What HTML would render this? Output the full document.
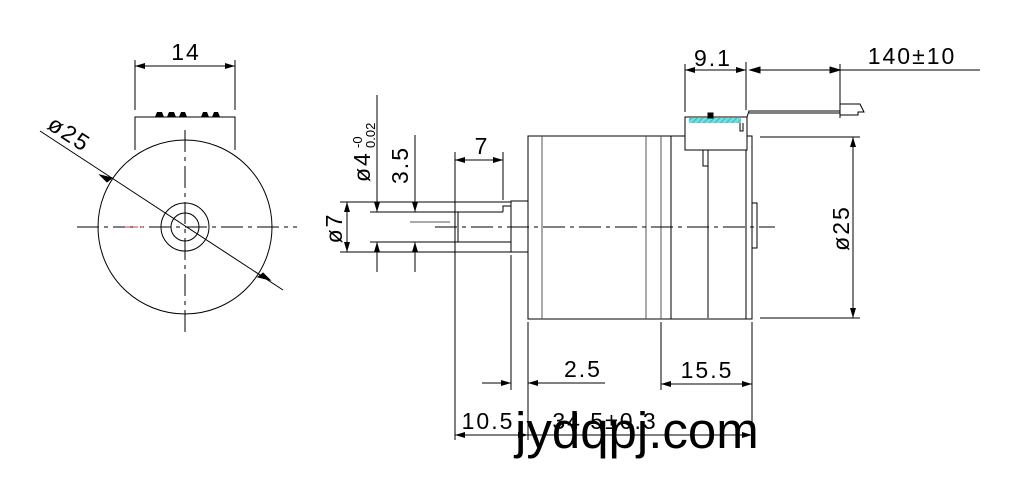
<!DOCTYPE html>
<html><head><meta charset="utf-8"><style>
html,body{margin:0;padding:0;background:#fff;width:1027px;height:477px;overflow:hidden}
svg{display:block}
text{font-family:"Liberation Sans",sans-serif;fill:#000}
.d{font-size:23px;letter-spacing:2px;fill:#222}
</style></head><body>
<svg width="1027" height="477" viewBox="0 0 1027 477" xmlns="http://www.w3.org/2000/svg">
<defs>
<marker id="a" viewBox="0 0 10 6" refX="10" refY="3" markerWidth="10" markerHeight="6" orient="auto-start-reverse" markerUnits="userSpaceOnUse"><path d="M0,0 L10,3 L0,6z" fill="#000"/></marker>
<pattern id="h" width="4" height="4" patternUnits="userSpaceOnUse" patternTransform="rotate(45)"><rect width="4" height="4" fill="#6fe0e0"/><line x1="0" y1="0" x2="0" y2="4" stroke="#2aa" stroke-width="1.5"/></pattern>
</defs>
<g stroke="#000" stroke-width="1" fill="none">
<circle cx="185" cy="227" r="87"/>
<circle cx="185" cy="227" r="24"/>
<circle cx="185" cy="227" r="14"/>
<path d="M135,150 V117 H235 V150"/>
<line x1="135" y1="60" x2="135" y2="110"/><line x1="235" y1="60" x2="235" y2="110"/>
<line x1="135" y1="66" x2="235" y2="66" marker-start="url(#a)" marker-end="url(#a)"/>
<line x1="40" y1="131" x2="283" y2="290"/>
<path d="M100,175 l12,3 l-5,4z M270,280 l-12,-3 l5,-4z" fill="#000"/>
<g stroke-dasharray="22,5,4,5"><line x1="77" y1="227" x2="297" y2="227"/><line x1="185" y1="130" x2="185" y2="335"/></g>
<line x1="125" y1="227" x2="143" y2="227" stroke="#e33" stroke-dasharray="5,3"/>
<rect x="528" y="136" width="224" height="183"/>
<line x1="542" y1="136" x2="542" y2="319" stroke="#555"/>
<line x1="646" y1="136" x2="646" y2="319" stroke="#555"/>
<line x1="661" y1="136" x2="661" y2="319" stroke="#555"/>
<line x1="671" y1="136" x2="671" y2="319"/>
<line x1="708" y1="150" x2="708" y2="318"/>
<line x1="746" y1="136" x2="746" y2="319"/>
<rect x="752" y="203" width="5" height="45"/>
<rect x="703" y="150" width="5" height="16"/>
<rect x="685" y="117" width="62" height="33" fill="#fff"/>
<rect x="689" y="118" width="52" height="5" fill="url(#h)" stroke="none"/>
<path d="M740,123 v8 h3 v-8" />
<path d="M708,113 h5 v5 h-5z" fill="#000"/>
<path d="M747,117 l2,-6 h91 M749,113 h91 M840,104 h20 l4,8 h-6 v3 h-18z" />
<rect x="511" y="201" width="17" height="51"/>
<line x1="340" y1="202" x2="511" y2="202"/>
<line x1="340" y1="252" x2="511" y2="252"/>
<line x1="370" y1="212" x2="503" y2="212"/>
<line x1="370" y1="242" x2="511" y2="242"/>
<line x1="410" y1="222" x2="450" y2="222" stroke="#555"/>
<path d="M455,212 v30 M458,212 v30 M503,212 v-6 h8"/>
<line x1="435" y1="227" x2="775" y2="227" stroke-dasharray="22,5,4,5"/>
<line x1="347" y1="202" x2="347" y2="252" marker-start="url(#a)" marker-end="url(#a)"/>
<line x1="377" y1="95" x2="377" y2="212" marker-end="url(#a)"/>
<line x1="377" y1="272" x2="377" y2="242" marker-end="url(#a)"/>
<line x1="415" y1="135" x2="415" y2="212" marker-end="url(#a)"/>
<line x1="415" y1="272" x2="415" y2="242" marker-end="url(#a)"/>
<line x1="455" y1="152" x2="455" y2="440"/>
<line x1="503" y1="152" x2="503" y2="200"/>
<line x1="455" y1="160" x2="503" y2="160" marker-start="url(#a)" marker-end="url(#a)"/>
<line x1="685" y1="64" x2="685" y2="112"/>
<line x1="746" y1="62" x2="746" y2="110"/>
<line x1="840" y1="64" x2="840" y2="118"/>
<line x1="685" y1="70" x2="746" y2="70" marker-start="url(#a)" marker-end="url(#a)"/>
<line x1="750" y1="70" x2="980" y2="70"/>
<path d="M750,70 l10,-3 v6z M840,70 l-10,-3 v6z" fill="#000"/>
<line x1="760" y1="137" x2="860" y2="137"/><line x1="760" y1="318" x2="860" y2="318"/>
<line x1="853" y1="137" x2="853" y2="318" marker-start="url(#a)" marker-end="url(#a)"/>
<line x1="511" y1="255" x2="511" y2="390"/>
<line x1="528" y1="322" x2="528" y2="440"/>
<line x1="661" y1="322" x2="661" y2="390"/>
<line x1="752" y1="322" x2="752" y2="440"/>
<line x1="482" y1="383" x2="511" y2="383" marker-end="url(#a)"/>
<line x1="605" y1="383" x2="528" y2="383" marker-end="url(#a)"/>
<line x1="661" y1="384" x2="752" y2="384" marker-start="url(#a)" marker-end="url(#a)"/>
<line x1="455" y1="435" x2="528" y2="435" marker-start="url(#a)" marker-end="url(#a)"/>
<line x1="528" y1="435" x2="752" y2="435" marker-end="url(#a)"/>
</g>
<path d="M155,117 l2,-5 h5 l2,5z M167,117 l2,-5 h5 l2,5z M179,117 l2,-5 h4 l2,5z M201,117 l2,-5 h4 l2,5z M212,117 l2,-5 h4 l2,5z" fill="#000"/>
<g class="d">
<text x="186" y="60" text-anchor="middle">14</text>
<text transform="translate(46,128) rotate(33)">ø25</text>
<text x="482" y="154" text-anchor="middle">7</text>
<text transform="translate(342,228) rotate(-90)" text-anchor="middle">ø7</text>
<text transform="translate(408,165) rotate(-90)" text-anchor="middle">3.5</text>
<text transform="translate(370,182) rotate(-90)">ø4</text>
<text transform="translate(362,148) rotate(-90)" font-size="13" letter-spacing="0">-0</text>
<text transform="translate(375,148) rotate(-90)" font-size="13" letter-spacing="0">0.02</text>
<text x="713" y="66" text-anchor="middle">9.1</text>
<text x="912" y="64" text-anchor="middle">140±10</text>
<text transform="translate(849,228) rotate(-90)" text-anchor="middle">ø25</text>
<text x="583" y="377" text-anchor="middle">2.5</text>
<text x="707" y="378" text-anchor="middle">15.5</text>
<text x="488" y="429" text-anchor="middle">10.5</text>
<text x="605" y="429" text-anchor="middle">34.5±0.3</text>
</g>
<text x="515" y="448" font-size="51">jydqpj.com</text>
</svg>
</body></html>
